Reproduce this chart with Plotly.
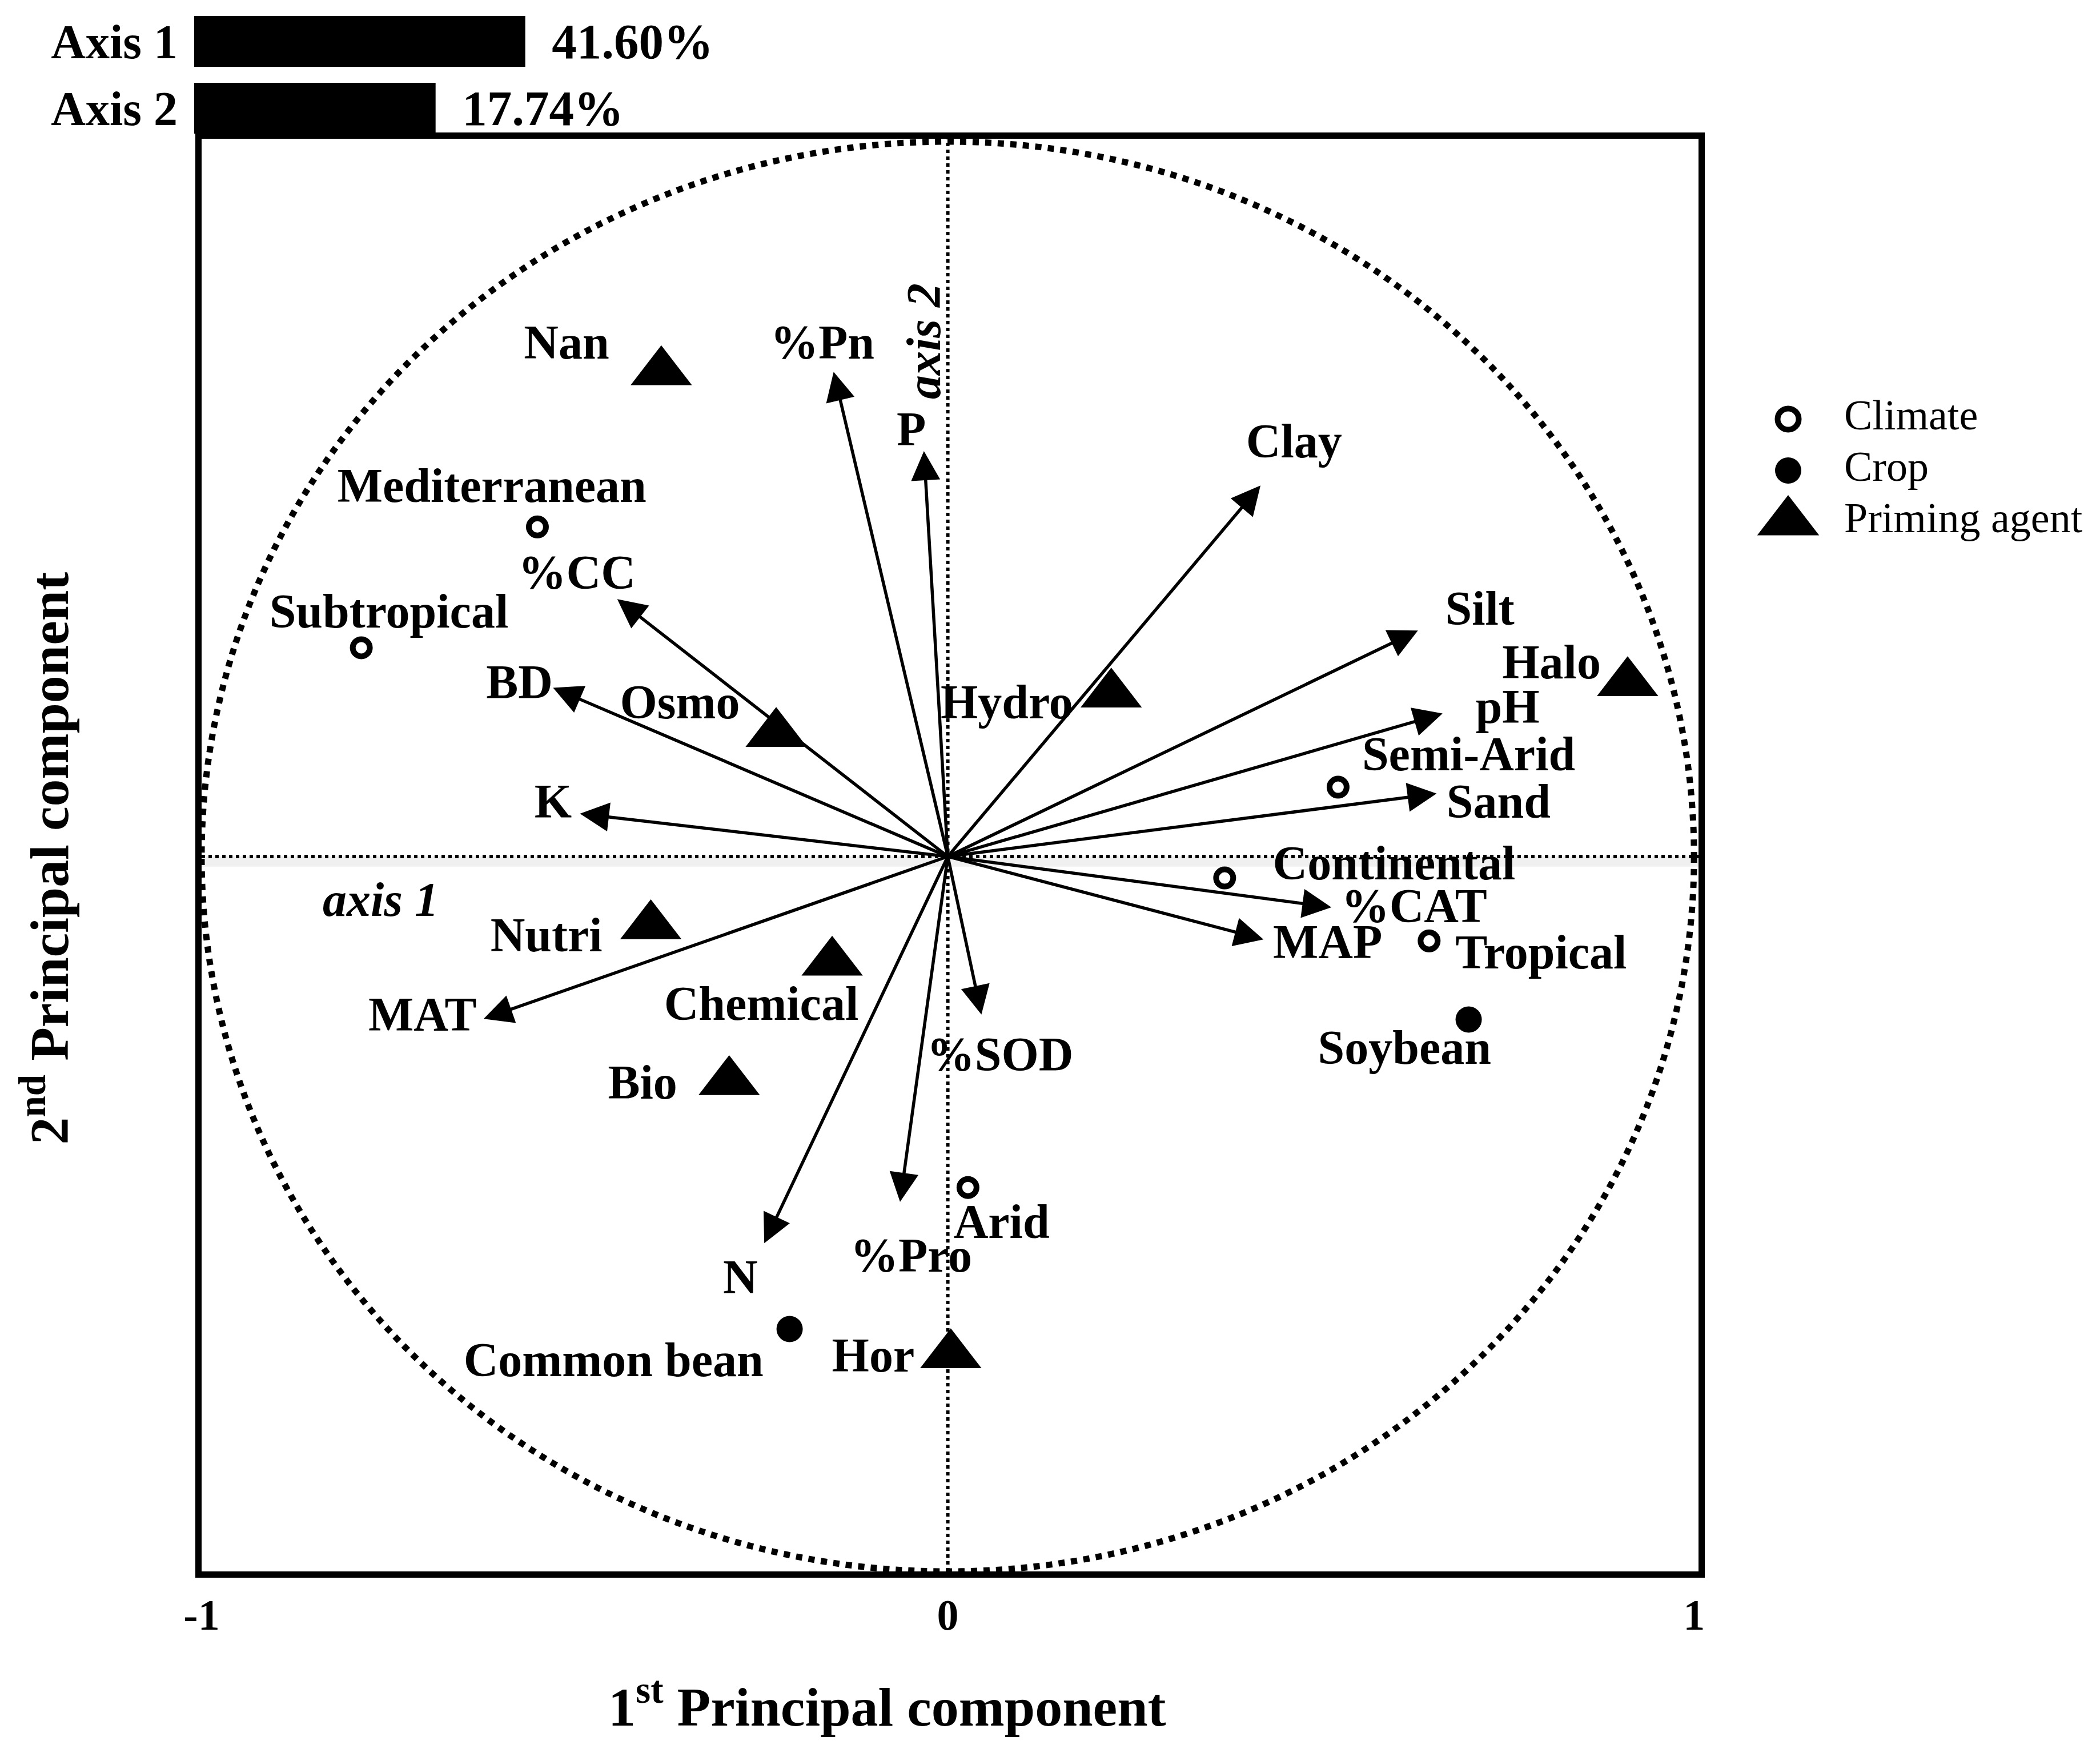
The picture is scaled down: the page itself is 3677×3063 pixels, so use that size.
import plotly.graph_objects as go

# ---------------- Data ----------------
var_names = ["%Pn", "P", "Clay", "Silt", "pH", "Sand", "%CAT", "MAP",
             "%SOD", "%Pro", "N", "MAT", "K", "BD", "%CC"]
var_x = [-0.153, -0.032, 0.419, 0.630, 0.663, 0.655, 0.514, 0.423,
         0.045, -0.064, -0.246, -0.622, -0.493, -0.529, -0.443]
var_y = [0.678, 0.567, 0.519, 0.316, 0.200, 0.088, -0.071, -0.116,
         -0.221, -0.483, -0.541, -0.227, 0.060, 0.236, 0.360]
var_label_x = [-0.168, -0.049, 0.464, 0.713, 0.750, 0.738, 0.625, 0.509,
               0.070, -0.049, -0.278, -0.704, -0.529, -0.574, -0.497]
var_label_y = [0.713, 0.592, 0.575, 0.341, 0.204, 0.071, -0.075, -0.125,
               -0.283, -0.564, -0.594, -0.227, 0.071, 0.238, 0.391]

climate_names = ["Mediterranean", "Subtropical", "Semi-Arid", "Continental", "Tropical", "Arid"]
climate_x = [-0.550, -0.786, 0.523, 0.371, 0.645, 0.027]
climate_y = [0.461, 0.292, 0.097, -0.030, -0.118, -0.463]
climate_label_x = [-0.611, -0.749, 0.698, 0.598, 0.795, 0.072]
climate_label_y = [0.513, 0.337, 0.137, -0.015, -0.140, -0.517]

crop_names = ["Soybean", "Common bean"]
crop_x = [0.698, -0.212]
crop_y = [-0.228, -0.661]
crop_label_x = [0.612, -0.448]
crop_label_y = [-0.273, -0.710]

agent_names = ["Nan", "Osmo", "Hydro", "Halo", "Nutri", "Chemical", "Bio", "Hor"]
agent_x = [-0.384, -0.230, 0.219, 0.911, -0.398, -0.155, -0.293, 0.004]
agent_y = [0.678, 0.172, 0.227, 0.243, -0.097, -0.148, -0.315, -0.697]
agent_label_x = [-0.511, -0.359, 0.079, 0.809, -0.538, -0.250, -0.409, -0.100]
agent_label_y = [0.713, 0.210, 0.210, 0.266, -0.116, -0.212, -0.322, -0.704]

axis_names = ["Axis 1", "Axis 2"]
axis_variance = [41.60, 17.74]

legend_names = ["Climate", "Crop", "Priming agent"]

tick_values = [-1, 0, 1]
tick_labels = ["-1", "0", "1"]

# ---------------- Layout geometry / styles ----------------
FONT = "Liberation Serif"
PAGE_OFF = 8                     # default body margin of the html page
LW, LH = 3677 - 2 * PAGE_OFF, 3063 - 2 * PAGE_OFF
ML, MR, MT, MB = 300, 10, 10, 250
PW = LW - ML - MR
PH = LH - MT - MB


def fx(p):   # page pixel -> paper x
    return (p - PAGE_OFF - ML) / PW


def fy(p):   # page pixel -> paper y
    return (LH - MB - (p - PAGE_OFF)) / PH


BAR_BASE = -46.5                 # visual origin of the variance bars
BAR_PX_PER_UNIT = 6.58

bold = dict(family=FONT, size=84, color="black", weight="bold")

fig = go.Figure()

fig.add_trace(go.Scatter(
    x=climate_x, y=climate_y, mode="markers", showlegend=False, cliponaxis=False,
    marker=dict(symbol="circle-open", size=30, color="black", opacity=1,
                line=dict(width=10, color="black")),
    xaxis="x", yaxis="y"))
fig.add_trace(go.Scatter(
    x=crop_x, y=crop_y, mode="markers", showlegend=False, cliponaxis=False,
    marker=dict(symbol="circle", size=46, color="black", opacity=1, line=dict(width=0)),
    xaxis="x", yaxis="y"))
fig.add_trace(go.Scatter(
    x=agent_x, y=agent_y, mode="markers", showlegend=False, cliponaxis=False,
    marker=dict(symbol="triangle-up", size=93, color="black", opacity=1, line=dict(width=0)),
    xaxis="x", yaxis="y"))

lab_x = var_label_x + climate_label_x + crop_label_x + agent_label_x
lab_y = var_label_y + climate_label_y + crop_label_y + agent_label_y
lab_t = var_names + climate_names + crop_names + agent_names
fig.add_trace(go.Scatter(
    x=lab_x, y=lab_y, text=lab_t, mode="text", textposition="middle center",
    textfont=bold, showlegend=False, cliponaxis=False, xaxis="x", yaxis="y"))

# variance bars (drawn from the common visual origin up to each value)
fig.add_trace(go.Bar(
    y=axis_names, x=[v - BAR_BASE for v in axis_variance], orientation="h",
    base=BAR_BASE, marker=dict(color="black", line=dict(width=0)),
    text=[f"{v:.2f}%" for v in axis_variance],
    texttemplate="\u00a0\u00a0%{text}", textposition="outside",
    textfont=dict(family=FONT, size=87, color="black", weight="bold"),
    constraintext="none", cliponaxis=False,
    showlegend=False, xaxis="x2", yaxis="y2"))

# custom legend
fig.add_trace(go.Scatter(
    x=[0] * len(legend_names), y=legend_names, mode="markers", showlegend=False,
    cliponaxis=False,
    marker=dict(symbol=["circle-open", "circle", "triangle-up"],
                size=[37, 46, 94], color="black", opacity=1,
                line=dict(width=[10, 0, 0], color="black")),
    xaxis="x3", yaxis="y3"))
fig.add_trace(go.Scatter(
    x=[1] * len(legend_names), y=legend_names, text=legend_names, mode="text",
    textposition="middle right", showlegend=False, cliponaxis=False,
    textfont=dict(family=FONT, size=74, color="black"),
    xaxis="x3", yaxis="y3"))

annotations = []
for vx, vy in zip(var_x, var_y):
    annotations.append(dict(
        x=vx, y=vy, ax=0, ay=0, xref="x", yref="y", axref="x", ayref="y",
        text="", showarrow=True, arrowhead=2, arrowsize=1.85, arrowwidth=5.5,
        arrowcolor="black", font=dict(size=1)))

annotations += [
    dict(x=-0.760, y=-0.060, xref="x", yref="y", text="axis 1", showarrow=False,
         xanchor="center", yanchor="middle",
         font=dict(family=FONT, size=84, color="black", weight="bold", style="italic")),
    dict(x=-0.032, y=0.721, xref="x", yref="y", text="axis 2", showarrow=False,
         textangle=-90, xanchor="center", yanchor="middle",
         font=dict(family=FONT, size=84, color="black", weight="bold", style="italic")),
    dict(x=fx(1553), y=fy(3045), xref="paper", yref="paper",
         xanchor="center", yanchor="bottom",
         text="1<sup>st</sup> Principal component", showarrow=False,
         font=dict(family=FONT, size=96, color="black", weight="bold")),
    dict(x=fx(16), y=fy(1503), xref="paper", yref="paper", textangle=-90,
         xanchor="left", yanchor="middle",
         text="2<sup>nd</sup> Principal component", showarrow=False,
         font=dict(family=FONT, size=96, color="black", weight="bold")),
]

shapes = [
    dict(type="line", xref="x domain", yref="y", x0=0, x1=1, y0=-0.007, y1=-0.007,
         line=dict(color="rgba(0,0,0,0.06)", width=18), layer="below"),
    dict(type="circle", xref="x", yref="y", x0=-1, y0=-1, x1=1, y1=1,
         line=dict(color="black", width=11, dash="dot"), layer="below"),
    dict(type="line", xref="x", yref="y domain", x0=0, x1=0, y0=0, y1=1,
         line=dict(color="black", width=6, dash="dot"), layer="below"),
    dict(type="line", xref="x domain", yref="y", x0=0, x1=1, y0=0, y1=0,
         line=dict(color="black", width=6, dash="dot"), layer="below"),
]

main_dom_x = [fx(353), fx(2974)]
main_dom_y = [fy(2752), fy(243)]
bar_dom_x = [fx(340), fx(2974)]
bar_span = (2974 - 340) / BAR_PX_PER_UNIT

fig.update_layout(
    width=LW, height=LH,
    margin=dict(l=ML, r=MR, t=MT, b=MB, autoexpand=False),
    paper_bgcolor="white", plot_bgcolor="white",
    showlegend=False, bargap=0.24,
    annotations=annotations, shapes=shapes,
    xaxis=dict(domain=main_dom_x, range=[-1.0, 1.006], anchor="y",
               showgrid=False, zeroline=False, showline=True, mirror=True,
               linewidth=11, linecolor="black",
               tickmode="array", tickvals=tick_values, ticktext=tick_labels,
               ticks="", ticklabelstandoff=0,
               tickfont=dict(family=FONT, size=76, color="black", weight="bold"),
               automargin=False),
    yaxis=dict(domain=main_dom_y, range=[-1.0, 1.004], anchor="x",
               showgrid=False, zeroline=False, showline=True, mirror=True,
               linewidth=11, linecolor="black", showticklabels=False, ticks="",
               automargin=False),
    xaxis2=dict(domain=bar_dom_x, range=[BAR_BASE, BAR_BASE + bar_span],
                anchor="y2", visible=False, automargin=False),
    yaxis2=dict(domain=[fy(243), fy(20)], range=[1.457, -0.449], anchor="x2",
                type="category", showgrid=False, zeroline=False, showline=False,
                ticks="", ticklabelstandoff=28,
                tickfont=dict(family=FONT, size=84, color="black", weight="bold"),
                automargin=False),
    xaxis3=dict(domain=[fx(3033), 1.0], range=[-1, 5.388], anchor="y3",
                visible=False, automargin=False),
    yaxis3=dict(domain=[fy(1000), fy(650)], range=[2.956, -0.933], anchor="x3",
                type="category", visible=False, automargin=False),
)

fig.write_html("out.html")
